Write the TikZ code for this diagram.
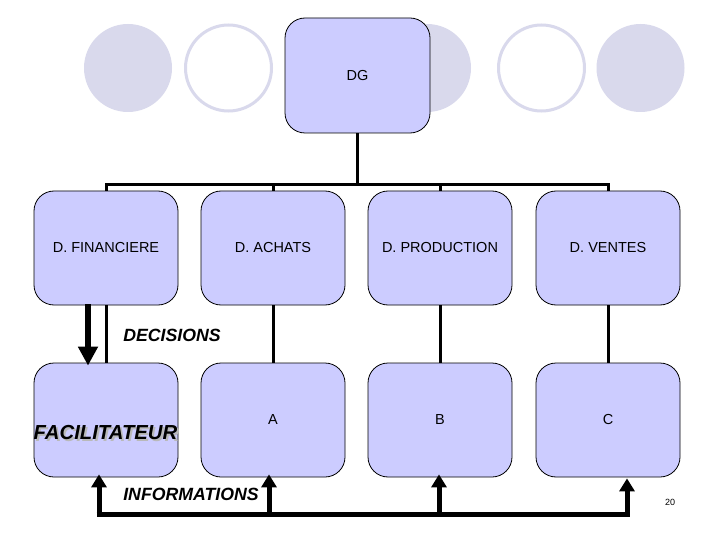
\documentclass[tikz,border=0pt]{standalone}
\usepackage{fontspec}
\setmainfont{Liberation Sans}
\usetikzlibrary{arrows.meta,calc}
\definecolor{boxblue}{HTML}{CCCCFF}
\definecolor{bgcirc}{HTML}{D9D9EC}
\begin{document}
\begin{tikzpicture}[x=1pt,y=-1pt,
  box/.style={draw=black, line width=0.8pt, fill=boxblue, rounded corners=20pt,
    minimum width=144pt, minimum height=114pt, inner sep=0pt,
    font=\fontsize{14.5}{17}\selectfont},
  conn/.style={line width=3pt},
  biglabel/.style={font=\fontsize{17.7}{20}\selectfont\bfseries\itshape, inner sep=0pt},
  faclabel/.style={font=\fontsize{20.3}{23}\selectfont\bfseries\itshape, inner sep=0pt},
  fullcirc/.style={fill=bgcirc},
  ringcirc/.style={draw=bgcirc, line width=3pt, fill=white},
  downarrow/.style={line width=6pt, -{Triangle[width=19pt,length=19pt]}},
  uparrow/.style={line width=5pt, -{Triangle[width=15pt,length=13pt]}},
  ]
\useasboundingbox (0,0) rectangle (720,540);
\fill[white] (0,0) rectangle (720,540);
% background circles
\fill[fullcirc] (128,68) circle [radius=44];
\draw[ringcirc] (228.5,68) circle [radius=43];
\fill[fullcirc] (427,68) circle [radius=44];
\draw[ringcirc] (541.5,68) circle [radius=43];
\fill[fullcirc] (640.5,68) circle [radius=44];
% boxes
\node[box, minimum width=145pt, minimum height=115pt] (dg) at (357.5,75.5) {DG};
\node[box] (fin) at (106,248) {D. FINANCIERE};
\node[box] (ach) at (273,248) {D. ACHATS};
\node[box] (prod) at (440,248) {D. PRODUCTION};
\node[box] (ven) at (608,248) {D. VENTES};
\node[box] (fac) at (106,420) {};
\node[box] (a) at (273,420) {A};
\node[box] (b) at (440,420) {B};
\node[box] (c) at (608,420) {C};
% hierarchy connectors
\coordinate (bar) at (357.5,184.5);
\draw[conn] (dg.south) -- (bar);
\draw[conn] (fin.north) -- (fin.north |- bar) -- (ven.north |- bar) -- (ven.north);
\draw[conn] (ach.north) -- (ach.north |- bar);
\draw[conn] (prod.north) -- (prod.north |- bar);
\draw[conn] (fin.south) -- (fac.north);
\draw[conn] (ach.south) -- (a.north);
\draw[conn] (prod.south) -- (b.north);
\draw[conn] (ven.south) -- (c.north);
% decisions arrow
\draw[downarrow] ($(fin.south)+(-18,-1)$) -- ($(fac.north)+(-18,3)$);
\node[biglabel] (dec) at (172,335) {DECISIONS};
% facilitateur label with shadow
\node[faclabel, text=gray!55] at (107.5,434.5) {FACILITATEUR};
\node[faclabel] (factext) at (105.5,433) {FACILITATEUR};
% information arrows
\coordinate (l1) at ($(fac.south)+(-7,37)$);
\coordinate (l2) at ($(a.south)+(-4,37)$);
\coordinate (l3) at ($(b.south)+(-1,37)$);
\coordinate (l4) at ($(c.south)+(19,37)$);
\draw[line width=5pt] ($(l1)+(-2.5,0)$) -- ($(l4)+(2.5,0)$);
\draw[uparrow] (l1) -- ($(fac.south)+(-7,-3)$);
\draw[uparrow] (l2) -- ($(a.south)+(-4,-3)$);
\draw[uparrow] (l3) -- ($(b.south)+(-1,-3)$);
\draw[uparrow] (l4) -- ($(c.south)+(19,1)$);
\node[biglabel] (info) at (191,494) {INFORMATIONS};
\node[font=\fontsize{9}{10}\selectfont] (page) at (670,502) {20};
\end{tikzpicture}
\end{document}
